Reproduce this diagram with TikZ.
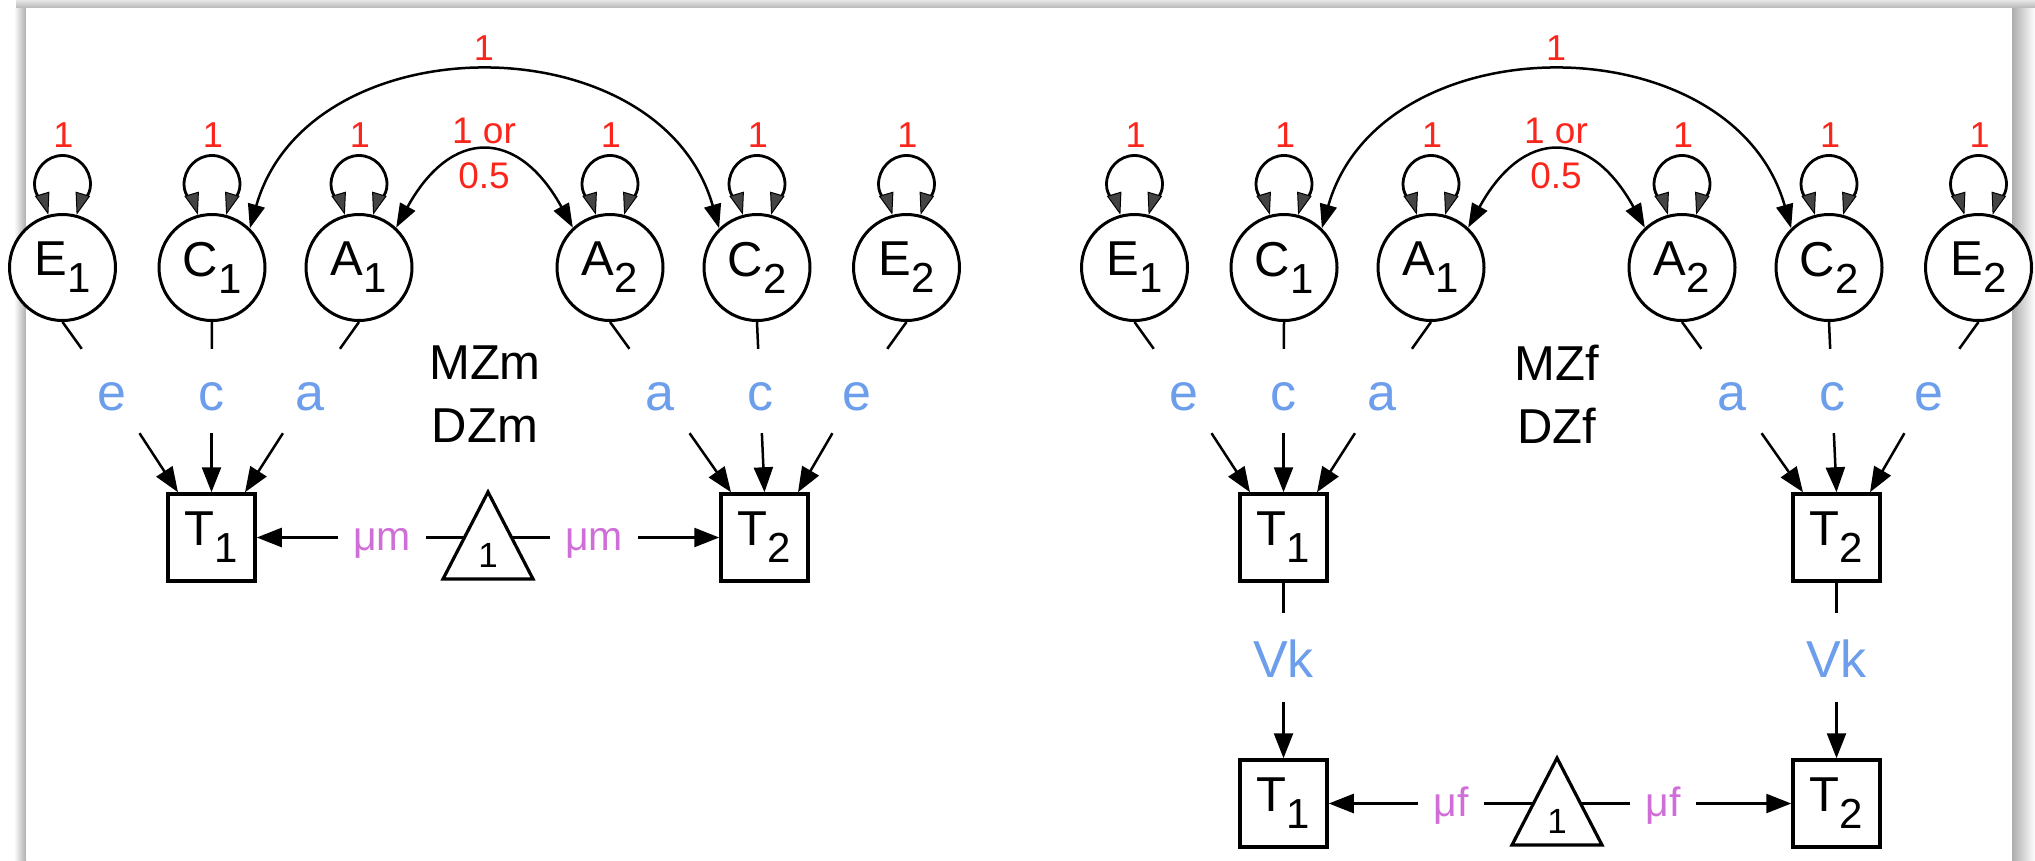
\documentclass[tikz,border=0pt]{standalone}
\usepackage{fontspec}
\setmainfont{Liberation Sans}
\usetikzlibrary{arrows.meta,calc}

\definecolor{fixedred}{RGB}{250,38,28}
\definecolor{pathblue}{RGB}{108,158,236}
\definecolor{meanpurple}{RGB}{208,110,216}
\definecolor{tipgray}{RGB}{68,68,68}

% lowered subscript used in the variable names
\newcommand\lowsub[1]{\raisebox{-17pt}{\fontsize{42}{42}\selectfont #1}}

\tikzset{
  latent/.style={circle, draw, line width=3pt, fill=white, minimum size=106pt,
    inner sep=0pt, font=\fontsize{49}{49}\selectfont},
  manifest/.style={rectangle, draw, line width=3.5pt, fill=white, minimum size=87pt,
    inner sep=0pt, font=\fontsize{49}{49}\selectfont},
  pathlabel/.style={text=pathblue, font=\fontsize{52}{52}\selectfont, text height=39pt,
    text depth=0pt, minimum height=84pt, minimum width=80pt, inner sep=0pt},
  meanlabel/.style={text=meanpurple, font=\fontsize{41}{41}\selectfont, text height=26pt,
    text depth=0pt, inner xsep=15pt, inner ysep=0pt},
  fixedval/.style={text=fixedred, font=\fontsize{36}{36}\selectfont, inner sep=0pt},
  zyglabel/.style={align=center, font=\fontsize{49}{63}\selectfont, inner sep=0pt},
  conn/.style={line width=2.5pt},
  arr/.style={line width=2.5pt, -{Triangle[length=25pt,width=19pt]}},
  covarr/.style={line width=2.5pt,
    {Triangle[length=24pt,width=17pt]}-{Triangle[length=24pt,width=17pt]}},
  varloop/.style={line width=2.8pt,
    {Triangle[length=22pt,width=15pt,fill=tipgray,line width=1pt]}-{Triangle[length=22pt,width=15pt,fill=tipgray,line width=1pt]}},
  meantri/.style={line width=3.2pt, line join=miter, fill=white},
}

% variance self-loop on top of a latent factor
\newcommand\varloop[1]{%
  \draw[varloop] (#1.105)
    .. controls ($(#1)+(-17.5,-64)$) and ($(#1)+(-28,-70)$) .. ($(#1)+(-28,-83)$)
    .. controls ($(#1)+(-28,-99)$) and ($(#1)+(-15.5,-112)$) .. ($(#1)+(0,-112)$)
    .. controls ($(#1)+(15.5,-112)$) and ($(#1)+(28,-99)$) .. ($(#1)+(28,-83)$)
    .. controls ($(#1)+(28,-70)$) and ($(#1)+(17.5,-64)$) .. (#1.75);}

% ACE twin model: #1 name prefix, #2 horizontal offset, #3 group label
\newcommand\twinpanel[3]{%
  \node[latent] (#1E1) at (#2+62.5,267.5) {E\lowsub{1}};
  \node[latent] (#1C1) at (#2+212,267.5) {C\lowsub{1}};
  \node[latent] (#1A1) at (#2+359,267.5) {A\lowsub{1}};
  \node[latent] (#1A2) at (#2+610,267.5) {A\lowsub{2}};
  \node[latent] (#1C2) at (#2+757,267.5) {C\lowsub{2}};
  \node[latent] (#1E2) at (#2+906.5,267.5) {E\lowsub{2}};
  \node[manifest] (#1T1) at (#2+211.5,537.5) {T\lowsub{1}};
  \node[manifest] (#1T2) at (#2+764.5,537.5) {T\lowsub{2}};
  % path coefficients
  \node[pathlabel] (#1pe1) at (#2+112,391) {e};
  \node[pathlabel] (#1pc1) at (#2+211.5,391) {c};
  \node[pathlabel] (#1pa1) at (#2+310,391) {a};
  \node[pathlabel] (#1pa2) at (#2+660,391) {a};
  \node[pathlabel] (#1pc2) at (#2+760,391) {c};
  \node[pathlabel] (#1pe2) at (#2+857,391) {e};
  \draw[conn] (#1E1.south) -- (#1pe1);
  \draw[arr] (#1pe1) -- ($(#1T1.north)+(-33.5,0)$);
  \draw[conn] (#1C1.south) -- (#1pc1);
  \draw[arr] (#1pc1) -- (#1T1.north);
  \draw[conn] (#1A1.south) -- (#1pa1);
  \draw[arr] (#1pa1) -- ($(#1T1.north)+(33.5,0)$);
  \draw[conn] (#1A2.south) -- (#1pa2);
  \draw[arr] (#1pa2) -- ($(#1T2.north)+(-33.5,0)$);
  \draw[conn] (#1C2.south) -- (#1pc2);
  \draw[arr] (#1pc2) -- (#1T2.north);
  \draw[conn] (#1E2.south) -- (#1pe2);
  \draw[arr] (#1pe2) -- ($(#1T2.north)+(33.5,0)$);
  % covariances between twins
  \draw[covarr] (#1C1.46) .. controls ($(#1C1.46)+(59,-207)$) and ($(#1C2.134)+(-59,-207)$) .. (#1C2.134);
  \draw[covarr] (#1A1.47) .. controls ($(#1A1.47)+(55,-100)$) and ($(#1A2.133)+(-55,-100)$) .. (#1A2.133);
  \node[fixedval, anchor=base] (#1cc) at (#2+484,60) {1};
  \node[fixedval, align=center, font=\fontsize{37}{45}\selectfont] (#1aa) at (#2+484,153) {1 or\\0.5};
  % variances
  \foreach \v in {E1,C1,A1,A2,C2,E2}{%
    \varloop{#1\v}
    \node[fixedval, anchor=base] (#1v\v) at ($(#1\v)+(1,-120.5)$) {1};
  }
  \node[zyglabel] (#1zyg) at (#2+485,394) {#3};
}

\begin{document}
\begin{tikzpicture}[x=1pt,y=-1pt]
\useasboundingbox (0,0) rectangle (2035,860);
% sheet with its drop shadow
\fill[white] (0,0) rectangle (2035,860);
\shade[top color=black!10, bottom color=black!28] (16,0) rectangle (2035,8);
\shade[left color=white, right color=black!32] (14,8) rectangle (26,860);
\shade[left color=black!32, right color=white] (2012,8) rectangle (2035,860);
\fill[white] (26,8) rectangle (2012,860);

\twinpanel{L}{0}{MZm\\DZm}
\twinpanel{R}{1072}{MZf\\DZf}

% means, male panel
\draw[meantri] (488,492) -- (533,579) -- (443,579) -- cycle;
\node[font=\fontsize{35}{35}\selectfont, inner sep=0pt, anchor=base] (Lone) at (488,567) {1};
\coordinate (LkW) at (464.5,537.5);
\coordinate (LkE) at (511.5,537.5);
\node[meanlabel] (Lmu1) at (382,537.5) {μm};
\node[meanlabel] (Lmu2) at (594,537.5) {μm};
\draw[conn] (LkW) -- (Lmu1);
\draw[arr] (Lmu1) -- (LT1);
\draw[conn] (LkE) -- (Lmu2);
\draw[arr] (Lmu2) -- (LT2);

% scaling and means, female panel
\node[pathlabel, minimum height=89pt] (Rvk1) at (1283.5,657.5) {Vk};
\node[pathlabel, minimum height=89pt] (Rvk2) at (1836.5,657.5) {Vk};
\node[manifest] (RT1b) at (1283.5,803.5) {T\lowsub{1}};
\node[manifest] (RT2b) at (1836.5,803.5) {T\lowsub{2}};
\draw[conn] (RT1) -- (Rvk1);
\draw[arr] (Rvk1) -- (RT1b);
\draw[conn] (RT2) -- (Rvk2);
\draw[arr] (Rvk2) -- (RT2b);
\draw[meantri] (1557,758) -- (1602,845) -- (1512,845) -- cycle;
\node[font=\fontsize{35}{35}\selectfont, inner sep=0pt, anchor=base] (Rone) at (1557,833) {1};
\coordinate (RkW) at (1533.5,803.5);
\coordinate (RkE) at (1580.5,803.5);
\node[meanlabel] (Rmu1) at (1451,803.5) {μf};
\node[meanlabel] (Rmu2) at (1663,803.5) {μf};
\draw[conn] (RkW) -- (Rmu1);
\draw[arr] (Rmu1) -- (RT1b);
\draw[conn] (RkE) -- (Rmu2);
\draw[arr] (Rmu2) -- (RT2b);
\end{tikzpicture}
\end{document}
